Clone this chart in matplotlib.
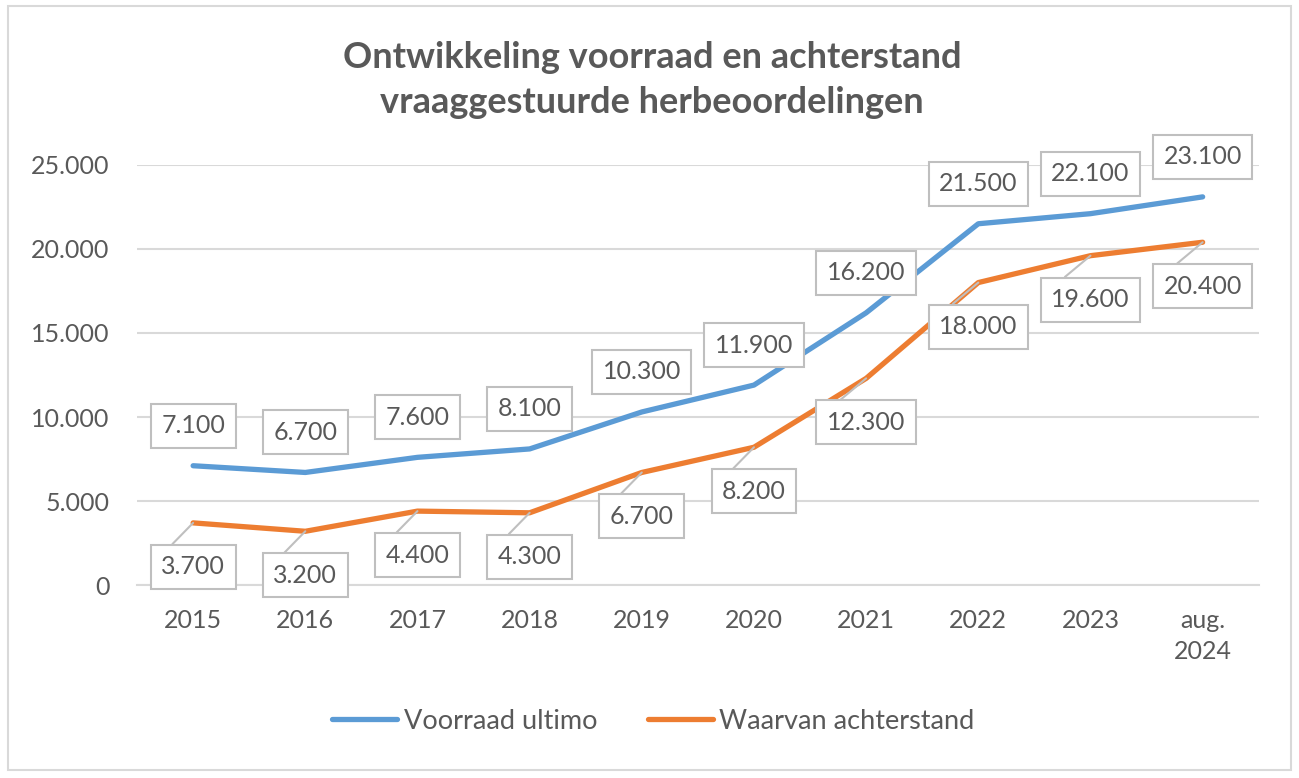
import matplotlib
matplotlib.use('Agg')
from matplotlib import pyplot as plt
from matplotlib.patches import Rectangle

categories = ['2015', '2016', '2017', '2018', '2019', '2020', '2021', '2022', '2023', 'aug.\n2024']
voorraad = [7100, 6700, 7600, 8100, 10300, 11900, 16200, 21500, 22100, 23100]
achterstand = [3700, 3200, 4400, 4300, 6700, 8200, 12300, 18000, 19600, 20400]
y_ticks = [0, 5000, 10000, 15000, 20000, 25000]

blue = '#5B9BD5'
orange = '#ED7D31'
grey_text = '#595959'

plt.rcParams['font.family'] = ['Lato', 'DejaVu Sans']


def fmt(v):
    return f'{v:,}'.replace(',', '.')


fig = plt.figure(figsize=(12.99, 7.78), dpi=100)
fig.patches.append(Rectangle((0.006, 0.01), 0.988, 0.982, transform=fig.transFigure,
                             fill=False, ec='#D9D9D9', lw=1.5))

ax = fig.add_axes([0.1055, 0.248, 0.8635, 0.54])
x = list(range(len(categories)))

ax.plot(x, voorraad, color=blue, lw=3.8, solid_capstyle='round', zorder=3, label='Voorraad ultimo')
ax.plot(x, achterstand, color=orange, lw=3.8, solid_capstyle='round', zorder=3, label='Waarvan achterstand')

box = dict(boxstyle='square,pad=0.42', fc='white', ec='#BFBFBF', lw=1.5)
for xi, v in zip(x, voorraad):
    ax.annotate(fmt(v), (xi, v), xytext=(0, 40), textcoords='offset pixels',
                ha='center', va='center', fontsize=18, color=grey_text, bbox=box, zorder=5)
for xi, v in zip(x, achterstand):
    ax.annotate(fmt(v), (xi, v), xytext=(0, -44), textcoords='offset pixels',
                ha='center', va='center', fontsize=18, color=grey_text, bbox=box, zorder=5,
                arrowprops=dict(arrowstyle='-', color='#BFBFBF', lw=1.5, relpos=(-0.05, 0.85),
                                shrinkA=0, shrinkB=0))

ax.set_xlim(-0.5, len(categories) - 0.5)
ax.set_ylim(0, 25000)
ax.set_yticks(y_ticks)
ax.set_yticklabels([fmt(t) for t in y_ticks])
ax.set_xticks(x)
ax.set_xticklabels(categories, linespacing=1.45)
ax.grid(axis='y', color='#D9D9D9', lw=1.5, zorder=0)
ax.set_axisbelow(True)
for s in ax.spines.values():
    s.set_visible(False)
ax.spines['bottom'].set_visible(True)
ax.spines['bottom'].set_color('#D9D9D9')
ax.spines['bottom'].set_linewidth(1.5)
ax.tick_params(axis='y', length=0, pad=20, labelsize=18, labelcolor=grey_text)
ax.tick_params(axis='x', length=0, pad=17, labelsize=18, labelcolor=grey_text)

fig.text(0.502, 0.897, 'Ontwikkeling voorraad en achterstand\nvraaggestuurde herbeoordelingen',
         ha='center', va='center', fontsize=26, fontweight='bold', color=grey_text, linespacing=1.42)

fig.legend(loc='center', bbox_to_anchor=(0.503, 0.073), ncol=2, frameon=False, fontsize=19.5,
           labelcolor=grey_text, handlelength=2.4, handletextpad=0.25, columnspacing=1.85)

fig.savefig('out.png', dpi=100)
